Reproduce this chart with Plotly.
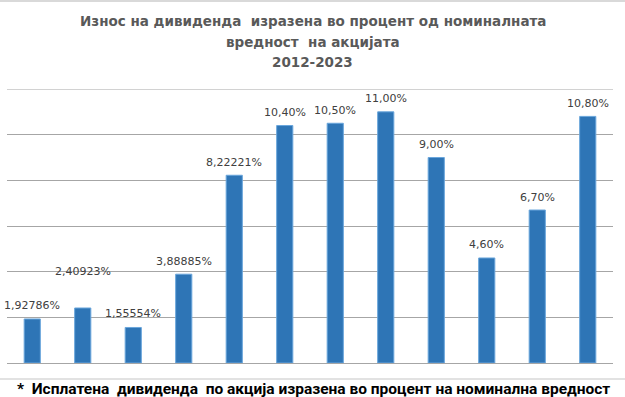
import plotly.graph_objects as go

years = ["2012", "2013", "2014", "2015", "2016", "2017", "2018", "2019", "2020", "2021", "2022", "2023"]
values = [1.92786, 2.40923, 1.55554, 3.88885, 8.22221, 10.40, 10.50, 11.00, 9.00, 4.60, 6.70, 10.80]
decimals = [5, 5, 5, 5, 5, 2, 2, 2, 2, 2, 2, 2]
label_shift = [13, 36, 14, 13, 13, 13, 13, 13, 13, 13, 13, 13]
y_max = 12

title_lines = ["Износ на дивиденда  изразена во процент од номиналната",
               "вредност  на акцијата",
               "2012-2023"]
footnote = "*  Исплатена  дивиденда  по акција изразена во процент на номинална вредност"

W, H = 625, 397
L, R, T, B = 7, 12, 89, 34
pw = W - L - R
ph = H - T - B

def px_x(p):
    return (p - L) / pw

def px_y(p):
    return (H - B - p) / ph

labels = [f"{v:.{d}f}".replace(".", ",") + "%" for v, d in zip(values, decimals)]
idx = list(range(len(years)))

fig = go.Figure()
fig.add_trace(go.Bar(
    x=idx, y=values,
    marker=dict(color="#2E75B6", line=dict(color="#6AA6DC", width=1)),
    width=0.32, hoverinfo="skip"))

annotations = []
for i, v, lab, s in zip(idx, values, labels, label_shift):
    annotations.append(dict(x=i, y=v, text=lab, showarrow=False, yshift=s,
                            yanchor="middle", xanchor="center",
                            font=dict(family="DejaVu Sans", size=11, color="#404040")))

title_y = [21, 42, 62]
for line, yy in zip(title_lines, title_y):
    annotations.append(dict(xref="paper", yref="paper", x=px_x(312.5), y=px_y(yy),
                            text="<b>" + line + "</b>", showarrow=False,
                            xanchor="center", yanchor="middle",
                            font=dict(family="DejaVu Sans", size=13.5, color="#595959")))

annotations.append(dict(xref="paper", yref="paper", x=px_x(15), y=px_y(389),
                        text="<b>" + footnote + "</b>", showarrow=False,
                        xanchor="left", yanchor="middle",
                        font=dict(family="Roboto", size=15.5, color="#000000")))

shapes = [
    dict(type="line", xref="paper", yref="paper", x0=px_x(0), x1=px_x(W), y0=px_y(1), y1=px_y(1),
         line=dict(color="#D9D9D9", width=2)),
    dict(type="line", xref="paper", yref="paper", x0=px_x(0), x1=px_x(W), y0=px_y(379), y1=px_y(379),
         line=dict(color="#D9D9D9", width=1.5)),
    dict(type="line", xref="paper", yref="y", x0=0, x1=1, y0=y_max, y1=y_max,
         line=dict(color="#A6A6A6", width=1), layer="below"),
]

fig.update_layout(
    width=W, height=H,
    margin=dict(l=L, r=R, t=T, b=B, pad=0),
    paper_bgcolor="white", plot_bgcolor="white",
    showlegend=False,
    annotations=annotations, shapes=shapes,
    xaxis=dict(range=[-0.5, len(years) - 0.5], showticklabels=False, showgrid=False,
               zeroline=False, showline=False, ticks="", tickvals=idx, ticktext=years),
    yaxis=dict(range=[0, y_max], dtick=2, showticklabels=False, showgrid=True,
               gridcolor="#A6A6A6", gridwidth=1, zeroline=True, zerolinecolor="#A6A6A6",
               zerolinewidth=1, showline=False, ticks=""),
    bargap=0.68,
)

fig.write_html("out.html")
